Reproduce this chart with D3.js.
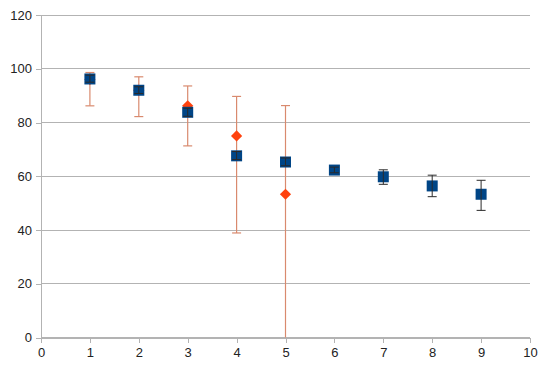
<!DOCTYPE html>
<html><head><meta charset="utf-8">
<script src="https://cdn.jsdelivr.net/npm/d3@7"></script>
<style>body{margin:0;background:#fff}svg{display:block}</style>
</head><body>
<svg id="c" width="540" height="366"></svg>
<script>
const xTicks = [0,1,2,3,4,5,6,7,8,9,10];
const yTicks = [0,20,40,60,80,100,120];

const blueX = [1,2,3,4,5,6,7,8,9];
const blueY = [96.2,92,83.8,67.6,65.3,62.3,59.8,56.4,53.3];
const blueLow = [95,90.8,82.3,66.2,63.9,61.3,57,52.4,47.3];
const blueHigh = [97.6,93.3,85.3,69.2,66.8,63.4,62.4,60.4,58.5];

const orangeX = [1,2,3,4,5];
const orangeY = [96,92,86.2,75,53.3];
const orangeLow = [86.2,82.2,71.3,38.9,0];
const orangeHigh = [98.6,97,93.6,89.7,86.3];

const svg = d3.select("#c");
const x = d3.scaleLinear().domain([0,10]).range([41,530]);
const y = d3.scaleLinear().domain([0,120]).range([337.5,15]);

// gridlines
svg.append("g").selectAll("line").data(yTicks).join("line")
  .attr("x1",x(0)).attr("x2",x(10))
  .attr("y1",d=>y(d)).attr("y2",d=>y(d))
  .attr("stroke","#b3b3b3").attr("stroke-width",1).attr("shape-rendering","crispEdges");

const yAxis = svg.append("g").attr("transform",`translate(${x(0)},0)`)
  .call(d3.axisLeft(y).tickValues(yTicks).tickSize(5).tickPadding(4));
const xAxis = svg.append("g").attr("transform",`translate(0,${y(0)})`)
  .call(d3.axisBottom(x).tickValues(xTicks).tickSize(5).tickPadding(5));
[yAxis,xAxis].forEach(a=>{
  a.selectAll("path,line").attr("stroke","#b3b3b3").attr("shape-rendering","crispEdges");
  a.selectAll("text").attr("font-family","Liberation Sans, Arial, sans-serif").attr("font-size","13px").attr("fill","#222");
});

function errBars(xs, lo, hi, color, cap, w){
  const g = svg.append("g");
  xs.forEach((xv,i)=>{
    g.append("line").attr("x1",x(xv)).attr("x2",x(xv)).attr("y1",y(lo[i])).attr("y2",y(hi[i]))
      .attr("stroke",color).attr("stroke-width",w);
    [lo[i],hi[i]].forEach(v=>{
      if (v<=0) return;
      g.append("line").attr("x1",x(xv)-cap).attr("x2",x(xv)+cap).attr("y1",y(v)).attr("y2",y(v))
        .attr("stroke",color).attr("stroke-width",w);
    });
  });
}

// orange error bars
errBars(orangeX, orangeLow, orangeHigh, "#d98a6e", 4.5, 1.2);
// orange diamonds
svg.append("g").selectAll("path").data(orangeX).join("path")
  .attr("d", d3.symbol(d3.symbolDiamond2 || d3.symbolDiamond, 80))
  .attr("transform",(d,i)=>`translate(${x(d)},${y(orangeY[i])})`)
  .attr("fill","#ff420e");
// blue squares
svg.append("g").selectAll("rect").data(blueX).join("rect")
  .attr("x",d=>x(d)-5.5).attr("y",(d,i)=>y(blueY[i])-5.5)
  .attr("width",11).attr("height",11).attr("fill","#004586");
// blue error bars
errBars(blueX, blueLow, blueHigh, "#2a2a2a", 4.5, 1);
</script>
</body></html>
